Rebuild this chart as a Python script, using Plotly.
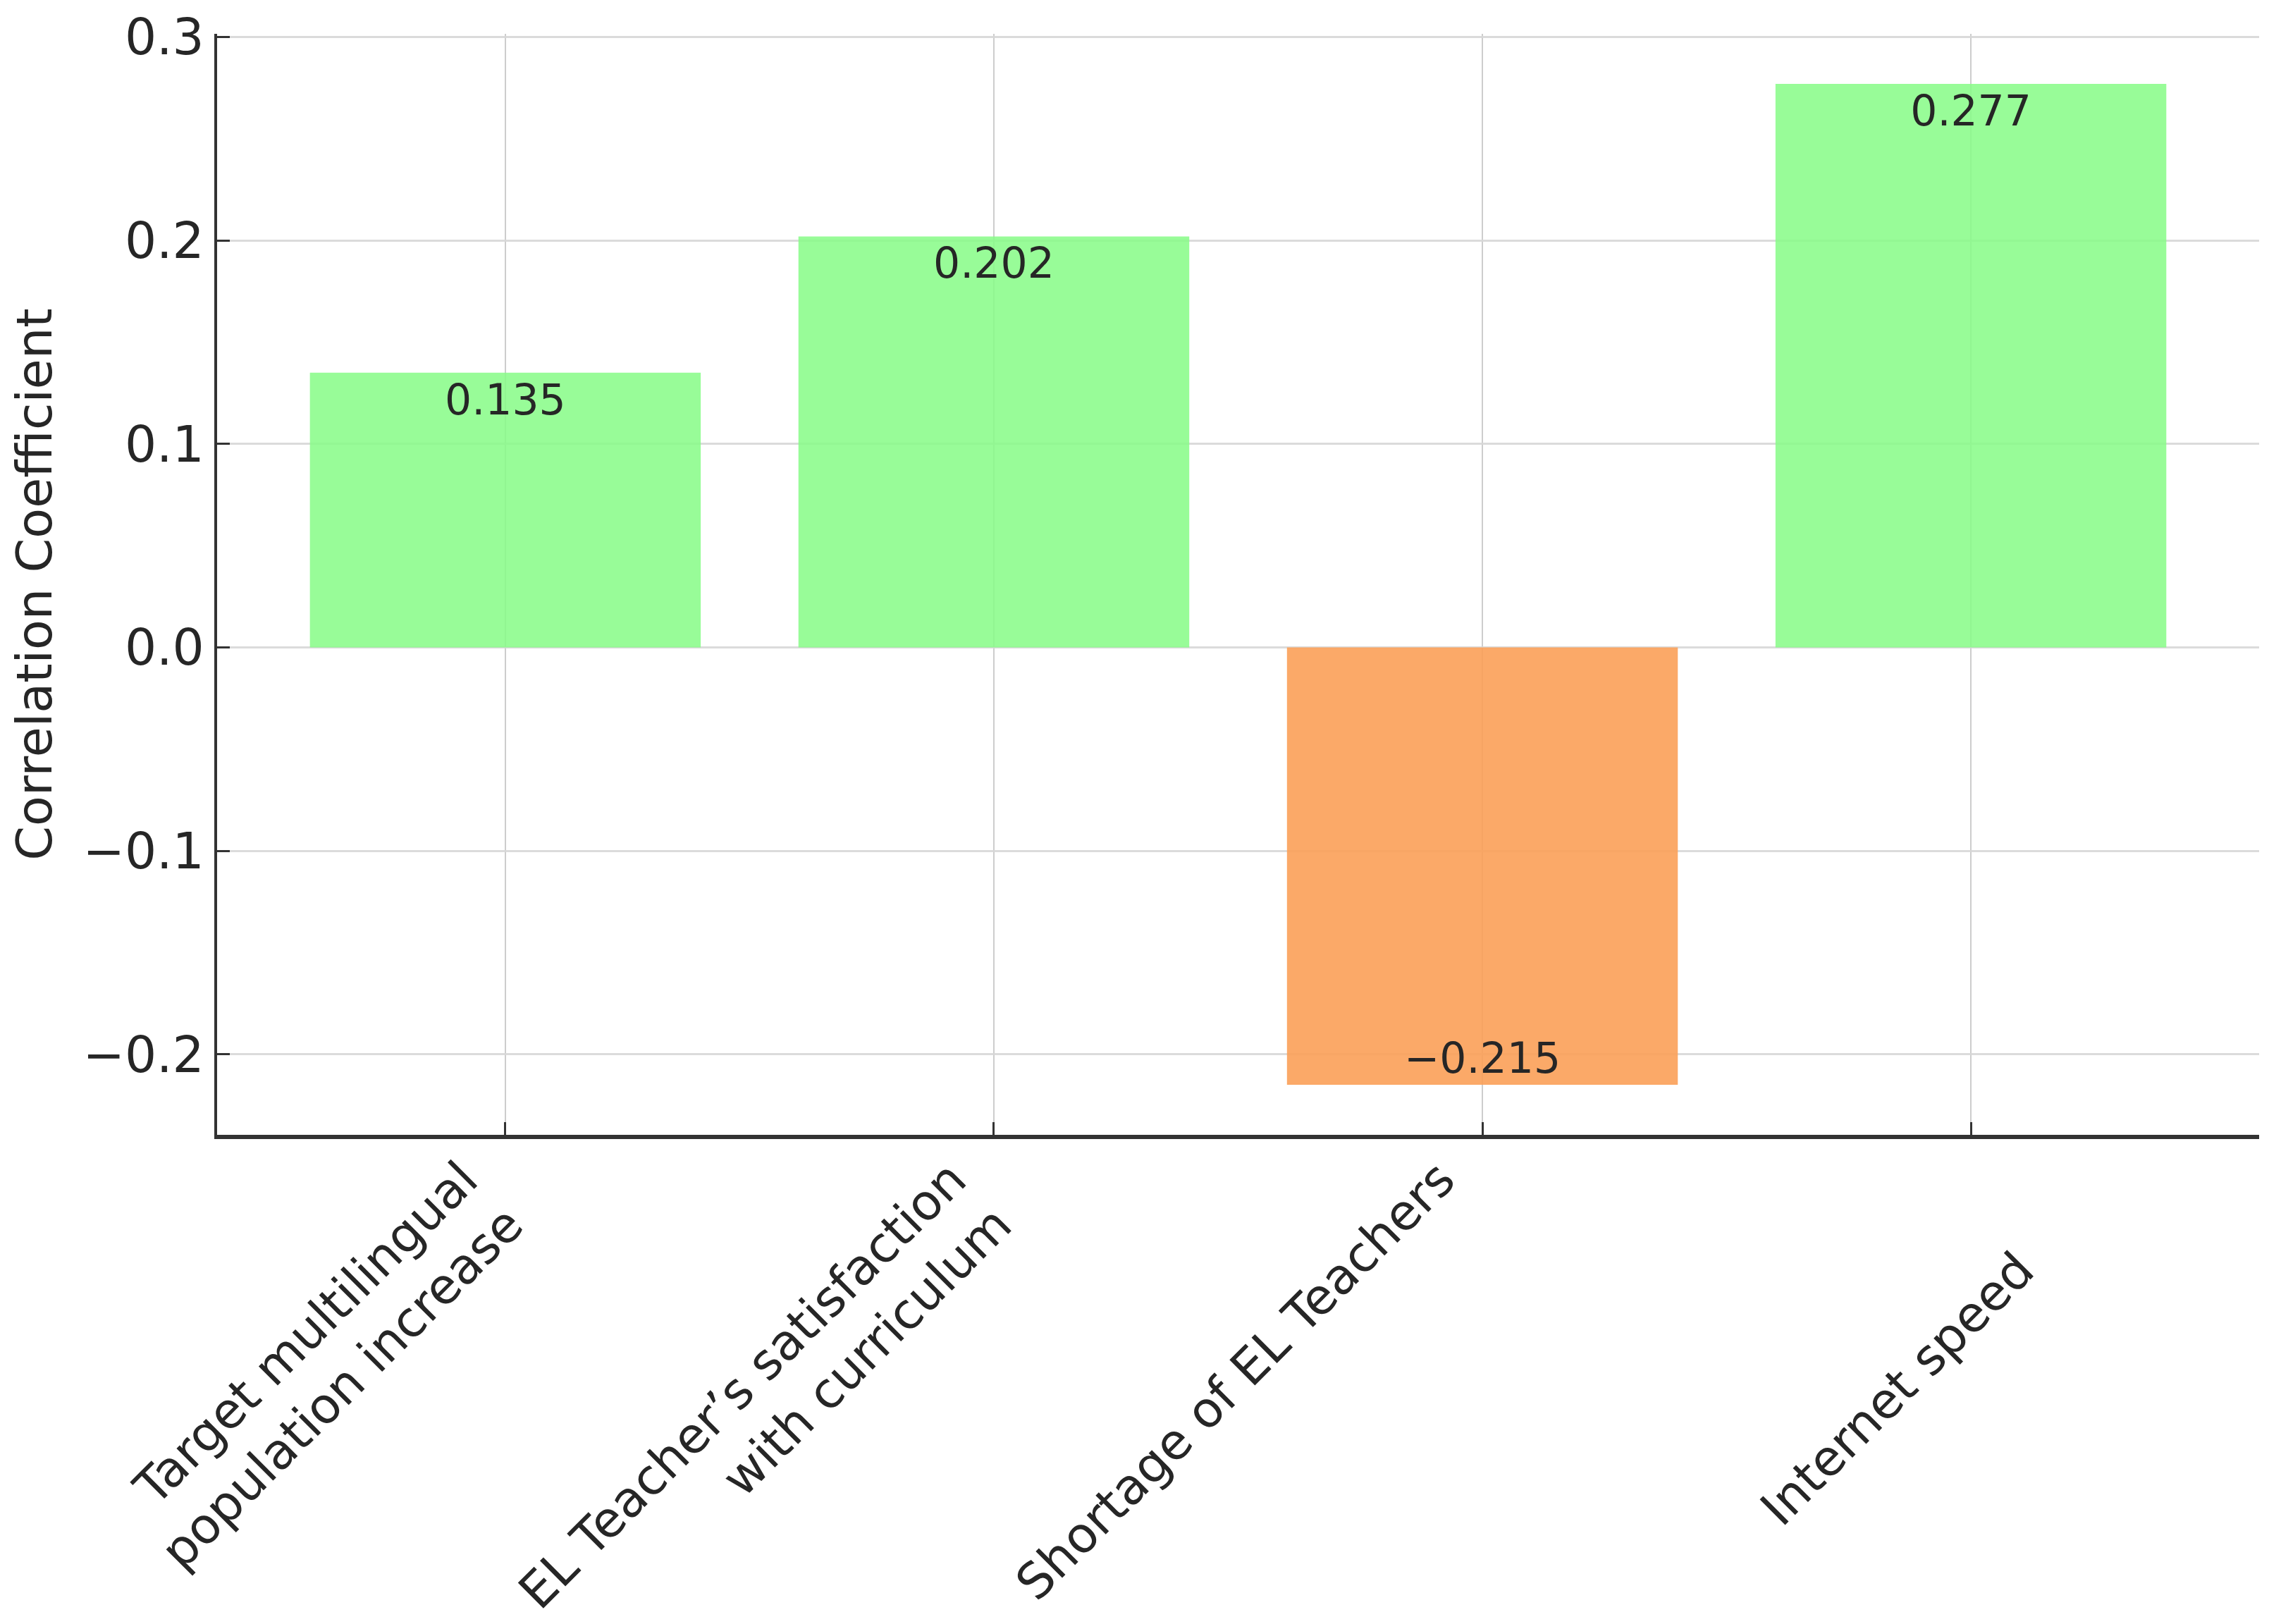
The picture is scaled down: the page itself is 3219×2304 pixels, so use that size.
import plotly.graph_objects as go

categories = [
    "Target multilingual<br>population increase",
    "EL Teacher’s satisfaction<br>with curriculum",
    "Shortage of EL Teachers",
    "<br><br>Internet speed",
]
values = [0.135, 0.202, -0.215, 0.277]
pos_color = "rgba(134,251,134,0.85)"
neg_color = "rgba(251,160,88,0.9)"
bar_colors = [pos_color if v >= 0 else neg_color for v in values]
value_labels = [f"{v:.3f}".replace("-", "\u2212") for v in values]
y_ticks = [-0.2, -0.1, 0.0, 0.1, 0.2, 0.3]

fig = go.Figure(
    go.Bar(
        x=list(range(len(categories))),
        y=values,
        width=0.8,
        marker=dict(color=bar_colors, line=dict(width=0)),
        text=value_labels,
        textposition="inside",
        insidetextanchor="end",
        textangle=0,
        textfont=dict(family="DejaVu Sans", size=60, color="#262626"),
        cliponaxis=False,
    )
)

font = dict(family="DejaVu Sans", size=71, color="#262626")

fig.update_layout(
    width=3219,
    height=2304,
    margin=dict(l=300, r=22, t=40, b=702),
    paper_bgcolor="white",
    plot_bgcolor="white",
    showlegend=False,
    font=font,
    xaxis=dict(
        range=[-0.59, 3.59],
        tickmode="array",
        tickvals=list(range(len(categories))),
        ticktext=categories,
        tickangle=-45,
        tickfont=dict(family="DejaVu Sans", size=70, color="#262626"),
        ticklabelshift=-60,
        ticklabelstandoff=-12,
        automargin=False,
        showgrid=True,
        gridcolor="rgba(200,200,200,0.9)",
        gridwidth=2,
        showline=True,
        linecolor="#333333",
        linewidth=6,
        ticks="inside",
        ticklen=18,
        tickwidth=3,
        tickcolor="#333333",
        zeroline=False,
    ),
    yaxis=dict(
        range=[-0.2396, 0.3016],
        tickmode="array",
        tickvals=y_ticks,
        tickformat=".1f",
        tickfont=font,
        automargin=False,
        title=dict(text="Correlation Coefficient", font=dict(family="DejaVu Sans", size=70, color="#262626"), standoff=40),
        showgrid=True,
        gridcolor="rgba(215,215,215,0.9)",
        gridwidth=3,
        showline=True,
        linecolor="#333333",
        linewidth=4,
        ticks="inside",
        ticklen=18,
        tickwidth=3,
        tickcolor="#333333",
        zeroline=False,
    ),
)

fig.write_html("out.html")
